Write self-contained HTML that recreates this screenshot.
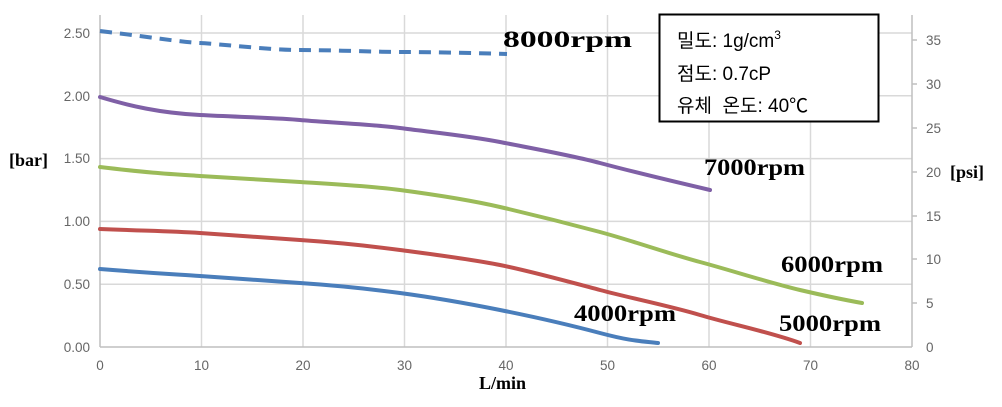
<!DOCTYPE html>
<html><head><meta charset="utf-8"><style>body{margin:0;background:#fff}svg{display:block}</style></head><body>
<svg width="1002" height="407" viewBox="0 0 1002 407" xmlns="http://www.w3.org/2000/svg">
<g stroke="#d9d9d9" stroke-width="1.5">
<line x1="100" y1="284.2" x2="912" y2="284.2"/><line x1="100" y1="221.4" x2="912" y2="221.4"/><line x1="100" y1="158.6" x2="912" y2="158.6"/><line x1="100" y1="95.8" x2="912" y2="95.8"/><line x1="100" y1="33" x2="912" y2="33"/>
<line x1="201.5" y1="15" x2="201.5" y2="347"/><line x1="303" y1="15" x2="303" y2="347"/><line x1="404.5" y1="15" x2="404.5" y2="347"/><line x1="506" y1="15" x2="506" y2="347"/><line x1="607.5" y1="15" x2="607.5" y2="347"/><line x1="709" y1="15" x2="709" y2="347"/><line x1="810.5" y1="15" x2="810.5" y2="347"/>
</g>
<g stroke="#bfbfbf" stroke-width="1.5">
<line x1="100" y1="15" x2="100" y2="347"/><line x1="912" y1="15" x2="912" y2="347"/><line x1="100" y1="347" x2="912" y2="347"/>
<line x1="912" y1="40" x2="917" y2="40"/><line x1="912" y1="84" x2="917" y2="84"/><line x1="912" y1="128" x2="917" y2="128"/><line x1="912" y1="172" x2="917" y2="172"/><line x1="912" y1="216" x2="917" y2="216"/><line x1="912" y1="259" x2="917" y2="259"/><line x1="912" y1="303" x2="917" y2="303"/>
</g>
<g font-family="Liberation Sans, sans-serif" font-size="13.5" fill="#666">
<g text-anchor="end"><text x="90" y="352">0.00</text><text x="90" y="289">0.50</text><text x="90" y="226">1.00</text><text x="90" y="163">1.50</text><text x="90" y="101">2.00</text><text x="90" y="38">2.50</text></g>
<g text-anchor="middle"><text x="100" y="370">0</text><text x="201.5" y="370">10</text><text x="303" y="370">20</text><text x="404.5" y="370">30</text><text x="506" y="370">40</text><text x="607.5" y="370">50</text><text x="709" y="370">60</text><text x="810.5" y="370">70</text><text x="912" y="370">80</text></g>
<text x="926" y="352">0</text><text x="926" y="308">5</text><text x="926" y="264">10</text><text x="926" y="221">15</text><text x="926" y="177">20</text><text x="926" y="133">25</text><text x="926" y="89">30</text><text x="926" y="45">35</text>
</g>
<g fill="none" stroke-width="4" stroke-linecap="round">
<path d="M100,31 C150,37 180,42 200,43 S270,50 300,50 S380,52 400,52 S480,53 507,54" stroke="#4a7ebb" stroke-dasharray="12,8" stroke-linecap="butt"/>
<path d="M100,97 C130,106 160,113 200,115 S280,118 300,120 S370,124 400,128 S470,136 500,142 S570,155 600,163 S680,183 710,190" stroke="#7f60a6"/>
<path d="M100,167 C150,173 170,174 200,176 S270,180 300,182 S370,186 400,190 S470,200 500,207 S570,224 600,232 S670,254 700,262 S770,283 800,290 S845,300 862,303" stroke="#9bbb59"/>
<path d="M100,229 C150,231 170,231 200,233 S270,238 300,240 S370,246 400,250 S470,259 500,265 S570,282 600,290 S670,306 700,315 S770,332 800,343" stroke="#c0504d"/>
<path d="M100,269 C150,273 170,274 200,276 S270,281 300,283 S370,289 400,293 S470,304 500,310 S570,325 600,333 S640,341 658,343" stroke="#4a7ebb"/>
</g>
<g font-family="Liberation Serif, serif" font-weight="bold" fill="#000">
<g font-size="23">
<text x="503" y="47" textLength="129" lengthAdjust="spacingAndGlyphs">8000rpm</text>
<text x="704" y="175" textLength="101" lengthAdjust="spacingAndGlyphs">7000rpm</text>
<text x="781" y="272" textLength="102" lengthAdjust="spacingAndGlyphs">6000rpm</text>
<text x="779" y="331" textLength="102" lengthAdjust="spacingAndGlyphs">5000rpm</text>
<text x="574" y="321" textLength="102" lengthAdjust="spacingAndGlyphs">4000rpm</text></g>
<g font-size="18"><text x="9" y="166">[bar]</text><text x="950" y="178">[psi]</text><text x="479" y="389">L/min</text></g>
</g>
<rect x="659.5" y="14.5" width="219" height="107" fill="#fff" stroke="#000" stroke-width="2"/>
<g font-family="Liberation Sans, 'Noto Sans CJK KR', sans-serif" font-size="19" fill="#000">
<text x="677" y="47">밀도: 1g/cm<tspan font-size="12" dy="-8">3</tspan></text>
<text x="677" y="80">점도: 0.7cP</text>
<text x="677" y="112">유체 &#160;온도: 40℃</text>
</g>
</svg>
</body></html>
